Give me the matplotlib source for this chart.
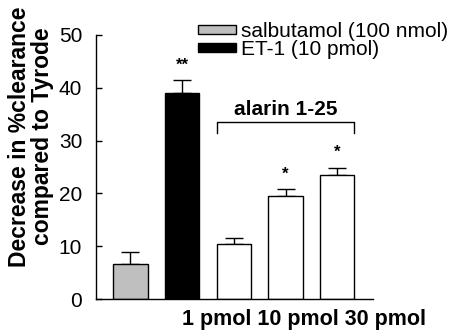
import numpy as np
import matplotlib.pyplot as plt
from matplotlib.patches import Patch

plt.rcParams['font.family'] = ['Liberation Sans', 'DejaVu Sans']

# data
groups = ["salbutamol (100 nmol)", "ET-1 (10 pmol)", "alarin 1 pmol", "alarin 10 pmol", "alarin 30 pmol"]
means = [6.6, 39.0, 10.4, 19.5, 23.5]
errors = [2.4, 2.5, 1.1, 1.3, 1.4]
stars = ["", "**", "", "*", "*"]
colors = ["#bfbfbf", "black", "white", "white", "white"]

fig = plt.figure(figsize=(4.53, 3.33), dpi=100)
ax = fig.add_axes([0.212, 0.102, 0.611, 0.793])

x = np.arange(len(means))
ax.bar(x, means, width=0.67, color=colors, edgecolor="black", linewidth=1.0, zorder=2)
ax.errorbar(x, means, yerr=[np.zeros(len(errors)), errors], fmt="none",
            ecolor="black", elinewidth=1.0, capsize=6.5, capthick=1.0, zorder=1)

for xi, m, e, s in zip(x, means, errors, stars):
    if s:
        ax.text(xi, m + e + 2.0, s, ha="center", va="baseline", fontsize=12, fontweight="bold")

# bracket over the alarin group
left = x[2] - 0.335
right = x[4] + 0.335
ax.plot([left, left, right, right], [31.5, 33.6, 33.6, 31.5], color="black", lw=1.0, clip_on=False)
ax.text((left + right) / 2, 34.8, "alarin 1-25", ha="center", va="baseline",
        fontsize=15, fontweight="bold")

ax.set_xlim(-0.667, 4.69)
ax.set_ylim(0, 50)
ax.set_yticks([0, 10, 20, 30, 40, 50])
ax.set_xticks([])
ax.tick_params(axis="y", direction="in", length=4, width=1.0, labelsize=15, pad=10)
for side in ["top", "right"]:
    ax.spines[side].set_visible(False)
for side in ["left", "bottom"]:
    ax.spines[side].set_linewidth(1.0)

fig.text(0.068, 0.59, "Decrease in %clearance\ncompared to Tyrode", rotation=90,
         ha="center", va="center", fontsize=16.5, fontweight="bold", linespacing=0.98)

fig.text(304 / 453, 1 - 319 / 333, "1 pmol 10 pmol 30 pmol", ha="center", va="center",
         fontsize=15.5, fontweight="bold")

handles = [Patch(facecolor=colors[0], edgecolor="black", linewidth=1.0),
           Patch(facecolor=colors[1], edgecolor="black", linewidth=1.0)]
fig.legend(handles, groups[:2], loc="upper left", bbox_to_anchor=(198 / 453, 1 - 22 / 333),
           frameon=False, fontsize=15, handlelength=1.83, handleheight=0.24,
           handletextpad=0.25, labelspacing=-0.05, borderpad=0, borderaxespad=0)

fig.savefig("out.png", dpi=100)
